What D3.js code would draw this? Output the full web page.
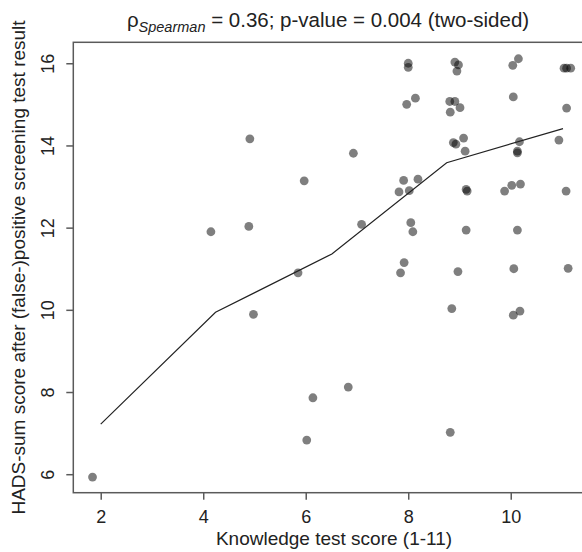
<!DOCTYPE html>
<html>
<head>
<meta charset="utf-8">
<script src="https://cdn.jsdelivr.net/npm/d3@7"></script>
<style>
  html, body { margin: 0; padding: 0; background: #fff; }
  svg { display: block; font-family: "Liberation Sans", Arial, sans-serif; }
</style>
</head>
<body>
<div id="chart"></div>
<script>
// ---- data ----
const knowledgeScore = [
  1.84, 4.15, 4.89, 4.91, 4.98, 5.85, 5.97, 6.14, 6.02, 6.83,
  6.93, 7.09, 8.00, 8.00, 7.97, 8.14, 7.91, 8.19, 7.82, 8.02,
  8.05, 8.09, 7.92, 7.85, 8.91, 8.98, 8.95, 8.81, 8.91, 9.01,
  8.82, 8.88, 8.93, 9.08, 9.11, 9.13, 9.15, 9.13, 8.97, 8.85,
  8.82, 10.04, 10.15, 10.05, 10.17, 10.13, 10.13, 10.94, 9.88, 10.02,
  10.19, 11.08, 10.13, 10.06, 11.12, 10.05, 10.18, 11.04, 11.09, 11.17,
  11.09
];
const hadsScore = [
  5.93, 11.90, 12.03, 14.16, 9.89, 10.90, 13.14, 7.86, 6.83, 8.12,
  13.81, 12.08, 16.00, 15.90, 15.00, 15.15, 13.15, 13.18, 12.87, 12.90,
  12.12, 11.90, 11.15, 10.90, 16.03, 15.96, 15.81, 15.07, 15.07, 14.92,
  14.81, 14.07, 14.03, 14.18, 13.86, 12.93, 12.89, 11.94, 10.93, 10.03,
  7.02, 15.95, 16.11, 15.18, 14.09, 13.86, 13.82, 14.13, 12.89, 13.03,
  13.06, 12.89, 11.94, 11.00, 11.01, 9.87, 9.97, 15.88, 15.88, 15.88,
  14.91
];
const smoothX = [2.00, 4.24, 6.51, 8.75, 11.02];
const smoothY = [7.22, 9.94, 11.36, 13.58, 14.41];
const xTicks = [2, 4, 6, 8, 10];
const yTicks = [6, 8, 10, 12, 14, 16];
const titleRho = "ρ";
const titleSub = "Spearman";
const titleRest = " = 0.36; p-value = 0.004 (two-sided)";
const xLabel = "Knowledge test score (1-11)";
const yLabel = "HADS-sum score after (false-)positive screening test result";

// ---- layout ----
const W = 582, H = 552;
const plot = { left: 73.3, right: 591.2, top: 42.3, bottom: 492.7 };

const svg = d3.select("#chart").append("svg")
  .attr("width", W).attr("height", H);

const x = d3.scaleLinear().domain([1.465, 11.57]).range([plot.left, plot.right]);
const y = d3.scaleLinear().domain([5.55, 16.51]).range([plot.bottom, plot.top]);

const axisColor = "#5a5a5a";
const textColor = "#222";

// points
const pts = knowledgeScore.map((k, i) => ({ k, h: hadsScore[i] }));
svg.append("g").selectAll("circle").data(pts).join("circle")
  .attr("cx", d => x(d.k))
  .attr("cy", d => y(d.h))
  .attr("r", 4.4)
  .attr("fill", "#000")
  .attr("fill-opacity", 0.5);

// smoother line
const line = d3.line().x(d => x(d[0])).y(d => y(d[1]));
svg.append("path")
  .datum(smoothX.map((v, i) => [v, smoothY[i]]))
  .attr("d", line)
  .attr("fill", "none")
  .attr("stroke", "#222")
  .attr("stroke-width", 1.2);

// box
svg.append("rect")
  .attr("x", plot.left).attr("y", plot.top)
  .attr("width", plot.right - plot.left).attr("height", plot.bottom - plot.top)
  .attr("fill", "none").attr("stroke", axisColor).attr("stroke-width", 1.5);

// x axis
const gx = svg.append("g")
  .attr("transform", `translate(0,${plot.bottom})`)
  .call(d3.axisBottom(x).tickValues(xTicks).tickSize(7).tickPadding(11).tickFormat(d3.format("d")));
gx.select(".domain").remove();
gx.selectAll(".tick line").attr("stroke", axisColor).attr("stroke-width", 1.5);
gx.selectAll(".tick text").attr("fill", textColor).style("font-size", "18px")
  .style("font-family", "Liberation Sans, Arial, sans-serif");

// y axis (labels rotated, parallel to axis)
const gy = svg.append("g")
  .attr("transform", `translate(${plot.left},0)`)
  .call(d3.axisLeft(y).tickValues(yTicks).tickSize(7).tickFormat(d3.format("d")));
gy.select(".domain").remove();
gy.selectAll(".tick line").attr("stroke", axisColor).attr("stroke-width", 1.5);
gy.selectAll(".tick text")
  .attr("x", null).attr("dy", null)
  .attr("text-anchor", "middle")
  .attr("transform", "translate(-19.5,0) rotate(-90)")
  .attr("fill", textColor).style("font-size", "18px")
  .style("font-family", "Liberation Sans, Arial, sans-serif");

// axis titles
svg.append("text")
  .attr("x", 334).attr("y", 545)
  .attr("text-anchor", "middle").attr("fill", textColor)
  .style("font-size", "19px")
  .text(xLabel);

svg.append("text")
  .attr("transform", `translate(25,${(plot.top + plot.bottom) / 2}) rotate(-90)`)
  .attr("text-anchor", "middle").attr("fill", textColor)
  .style("font-size", "19px")
  .text(yLabel);

// title
const t = svg.append("text")
  .attr("x", 328).attr("y", 27)
  .attr("text-anchor", "middle").attr("fill", textColor)
  .style("font-size", "20.5px");
t.append("tspan").text(titleRho);
t.append("tspan").attr("dy", 5).style("font-size", "14.5px").style("font-style", "italic").text(titleSub);
t.append("tspan").attr("dy", -5).text(titleRest);
</script>
</body>
</html>
